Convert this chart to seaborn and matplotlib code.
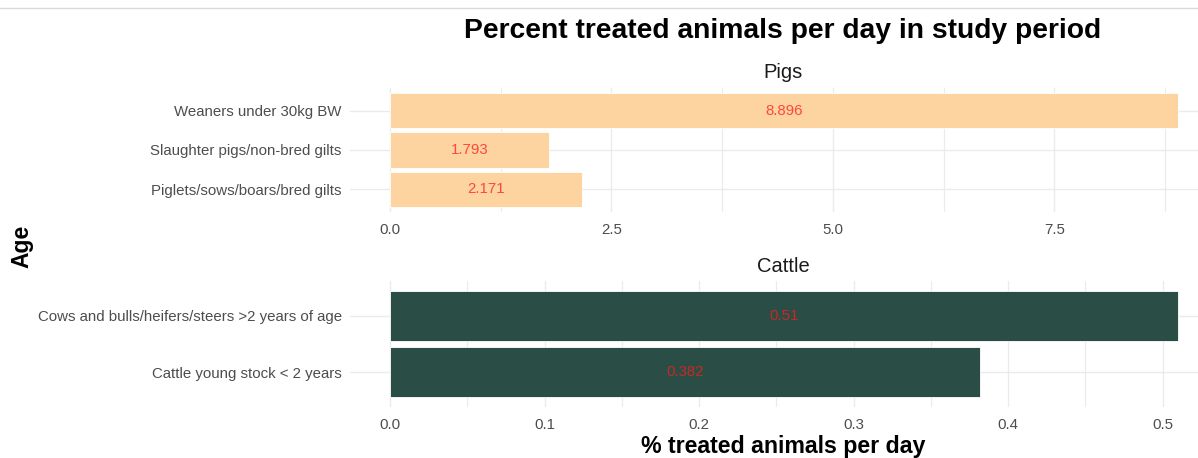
import matplotlib
matplotlib.use("Agg")
import matplotlib.pyplot as plt
import seaborn as sns
import pandas as pd
from matplotlib.lines import Line2D
from matplotlib.ticker import MultipleLocator

# Data
pig_groups = ["Weaners under 30kg BW",
              "Slaughter pigs/non-bred gilts",
              "Piglets/sows/boars/bred gilts"]
pig_values = [8.896, 1.793, 2.171]

cattle_groups = ["Cows and bulls/heifers/steers >2 years of age",
                 "Cattle young stock < 2 years"]
cattle_values = [0.51, 0.382]

pig_ticks = [0.0, 2.5, 5.0, 7.5]
cattle_ticks = [0.0, 0.1, 0.2, 0.3, 0.4, 0.5]

sns.set_theme(style="white")
plt.rcParams["font.family"] = ["Liberation Sans", "DejaVu Sans"]

W, H = 1198, 458
fig = plt.figure(figsize=(W / 100, H / 100), dpi=100)
fig.patch.set_facecolor("white")

PANEL_L, PANEL_R = 350, 1198
ZERO_PX, MAX_PX = 390, 1178
GRID = "#EBEBEB"
TICK_COL = "#4D4D4D"


def px_axes(left, top, right, bottom):
    return fig.add_axes([left / W, 1 - bottom / H, (right - left) / W, (bottom - top) / H])


def panel(ax, groups, values, color, ticks, minor_step, pad):
    df = pd.DataFrame({"group": groups, "value": values})
    sns.barplot(data=df, x="value", y="group", order=groups, color=color,
                saturation=1, width=0.9, edgecolor="white", linewidth=0.6,
                orient="h", ax=ax)
    scale = (MAX_PX - ZERO_PX) / max(values)
    ax.set_xlim(-(ZERO_PX - PANEL_L) / scale, (PANEL_R - ZERO_PX) / scale)
    n = len(groups)
    ax.set_ylim(n - 1 + pad, -pad)
    ax.set_xticks(ticks, labels=[f"{t:.1f}" for t in ticks])
    ax.xaxis.set_minor_locator(MultipleLocator(minor_step))
    ax.set_axisbelow(True)
    ax.grid(axis="x", which="major", color=GRID, linewidth=1.0)
    ax.grid(axis="x", which="minor", color=GRID, linewidth=0.8)
    ax.grid(axis="y", which="major", color=GRID, linewidth=1.0)
    for s in ax.spines.values():
        s.set_visible(False)
    ax.tick_params(axis="both", which="both", length=0, labelsize=10.8,
                   labelcolor=TICK_COL)
    ax.tick_params(axis="x", pad=8)
    ax.tick_params(axis="y", pad=6)
    ax.set_xlabel("")
    ax.set_ylabel("")
    ax.bar_label(ax.containers[0], labels=[f"{v:g}" for v in values],
                 label_type="center", color="#FF1A1A", alpha=0.75, fontsize=10.8)


ax_p = px_axes(PANEL_L, 88, PANEL_R, 212)
panel(ax_p, pig_groups, pig_values, "#FDD3A0", pig_ticks, 1.25, 0.57)

ax_c = px_axes(PANEL_L, 281, PANEL_R, 407)
panel(ax_c, cattle_groups, cattle_values, "#2A4E45", cattle_ticks, 0.05, 0.62)

cx = 783 / W
fig.text(cx, 1 - 31 / H, "Percent treated animals per day in study period",
         ha="center", va="center", fontsize=20.3, fontweight="bold", color="black")
fig.text(cx, 1 - 72 / H, "Pigs", ha="center", va="center", fontsize=14.5, color="#1A1A1A")
fig.text(cx, 1 - 266 / H, "Cattle", ha="center", va="center", fontsize=14.5, color="#1A1A1A")
fig.text(cx, 1 - 446 / H, "% treated animals per day", ha="center", va="center",
         fontsize=16.7, fontweight="bold", color="black")
fig.text(22 / W, 1 - 246 / H, "Age", ha="center", va="center", rotation=90,
         fontsize=16.5, fontweight="bold", color="black")

# thin rule across the top
fig.add_artist(Line2D([0, 1], [1 - 7.5 / H, 1 - 7.5 / H], color="#D9D9D9",
                      linewidth=1.0, transform=fig.transFigure))

fig.savefig("out.png", dpi=100)
